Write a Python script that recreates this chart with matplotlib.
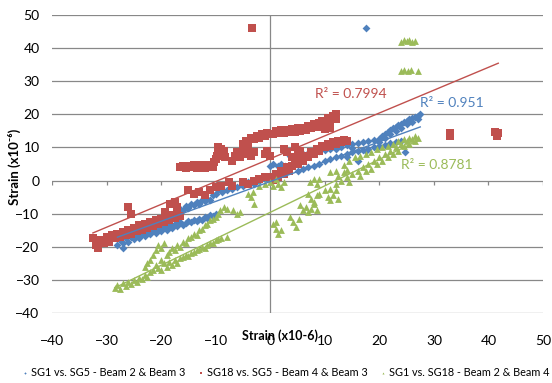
import numpy as np
import matplotlib
matplotlib.use("Agg")
import matplotlib.pyplot as plt

# 数据点 (x, y)
sg1_sg5 = [  # 蓝色 SG1 vs. SG5
    (-28, -19.5), (-27.5, -18), (-27, -20.3), (-27, -19), (-26.5, -17.5), (-26, -18.5), (-25.5, -17),
    (-25, -17.8), (-24.5, -16.5), (-24, -17.2), (-23.5, -16), (-23, -16.8), (-22.5, -15.5), (-22, -16.2),
    (-21.5, -15), (-21, -15.8), (-20.5, -14.5), (-20, -15.3), (-19.5, -14), (-19, -14.8), (-18.5, -13.5),
    (-18, -14.3), (-17.5, -13), (-17, -13.8), (-16.5, -12.5), (-16, -13.3), (-15.5, -12.8), (-15, -12.2),
    (-14.5, -12.6), (-14, -11.8), (-13.5, -12.2), (-13, -11.5), (-12.5, -11.8), (-12, -11), (-11.5, -11.4),
    (-11, -10.5), (-10.5, -10.8), (-10, -10),
    (-17, -9.5), (-16.5, -8.5), (-16, -9), (-15.5, -7.8), (-15, -8.3), (-14.5, -7), (-14, -7.5), (-13.5, -6.5),
    (-13, -7), (-12.5, -6), (-12, -6.3), (-11.5, -5.5), (-11, -5.8), (-10.5, -4.5), (-10, -4), (-9.5, -3),
    (-9, -2), (-9.5, -1.8), (-8.8, -3.5),
    (-8, -3), (-7, -2.5), (-6, -2), (-5, -1.5), (-4, -0.5), (-3, -1), (-2, 0), (-1, 0.5), (0, 1), (1, 1.5),
    (0, 4.5), (0.5, 5), (1.5, 4.3), (2, 5), (2.8, 4.5), (4.6, 5.4),
    (3.7, 7.3), (5, 7.8), (6, 8), (7, 8.3), (8, 8.6), (9, 9), (10, 9.2), (11, 9.5), (12, 9.5), (13, 10.2),
    (14, 10.6), (15, 11), (16, 11.2), (17, 11.5), (18, 11.8), (19, 12.2), (20, 12.5), (20.5, 13.5), (21, 14),
    (21.5, 14.8), (22, 15.2), (22.5, 15.8), (23, 16.3), (23.5, 16.8), (24, 17.2), (24.5, 17.6), (25, 18),
    (25.5, 18.5), (26, 18.8), (26.5, 19.3), (27, 19.6), (27.5, 20),
    (20, 11.5), (21, 13), (22, 14), (23, 15), (24, 16), (25, 17), (26, 17.8), (27, 18.5),
    (5, 3), (6, 3.5), (7, 4), (8, 4.5), (9, 5), (10, 6), (11, 6.5), (12, 7), (13, 7.5), (14, 8), (15, 8.5),
    (16, 9), (17, 9.2), (18, 9.5), (19, 10), (20, 10.5), (21, 10.8), (22, 11.2), (23, 11.5), (24, 12),
    (14, 7), (16, 6), (17.5, 9), (24.7, 8.5), (15, 9.8),
    (17.6, 46),
]

sg18_sg5 = [  # 红色 SG18 vs. SG5
    (-32.5, -17.5), (-32, -19.5), (-31.5, -20.5), (-31, -18), (-30.5, -19), (-30, -17), (-29.5, -18.5),
    (-29, -16.5), (-28.5, -17.5), (-28, -16), (-27.5, -17), (-27, -15.5), (-26.5, -16.5), (-26, -15),
    (-25.5, -16), (-25, -14.2), (-24.5, -15.3), (-24, -13.5), (-23.5, -14.8), (-23, -13), (-22.5, -14.2),
    (-22, -12.5), (-21.5, -13.6), (-21, -12), (-20.5, -13), (-20, -11.5), (-19.5, -12.5), (-19, -11),
    (-18.5, -12), (-18, -10.5), (-17.5, -11.3), (-17, -10.3), (-16.5, -10.8), (-26, -8), (-25.5, -10),
    (-19.3, -9.5),
    (-18.3, -7), (-17.5, -6.5), (-17, -8), (-15, -3), (-14, -4), (-13, -3.5), (-12, -4.5), (-11, -3),
    (-10, -2), (-9, -1.5), (-7.5, -0.5), (-7, -1.5), (-5, -0.5), (-4, -1), (-3, 0), (-2, 0.5), (-1, 1),
    (0, 1), (0.5, 0.3), (1, 2), (1.5, 1.2), (2, 3), (2.5, 2), (3, 4), (3.5, 3), (4, 4.5), (4.5, 5.5),
    (5, 5), (5.5, 6.5), (6, 6), (6.5, 7.5), (7, 7), (7.5, 8.5), (8, 8), (8.5, 9.5), (9, 9), (9.5, 10.5),
    (10, 10), (10.5, 11), (11, 10.5), (11.5, 11.5), (12, 11), (12.5, 12), (13, 11.5), (13.5, 12.2),
    (14, 11.8), (4, 7), (5, 8), (3, 8.5), (2.5, 9.5), (4.5, 10), (5.5, 9),
    (-16.5, 4), (-16, 4.5), (-15.5, 3.8), (-15, 4.5), (-14.5, 4), (-14, 4.6), (-13.5, 3.8), (-13, 4.3),
    (-12.5, 4.6), (-12, 3.9), (-11.5, 4.4), (-11, 4.8), (-10.5, 4.2), (-10.3, 5.5), (-10, 6.5),
    (-9.8, 7.5), (-9.5, 8.5), (-9, 9.5), (-9.5, 10), (-8.5, 9), (-8.2, 7), (-7, 6), (-6.5, 7.5), (-6, 8.5),
    (-5.5, 7), (-5, 9), (-4.5, 8), (-4, 9.3), (-3.5, 7.5), (-3, 8.5), (-5, 11), (-4.5, 12), (-4, 11.5),
    (-3.5, 13), (-3, 12.5), (-2.5, 13.5), (-2, 13), (-1.5, 14), (-1, 13.5), (-0.5, 14.5), (-1, 8),
    (-0.5, 9), (0, 7.5), (0.5, 14), (1, 15), (1.5, 14.3), (2, 15.2), (2.5, 14.5), (3, 15.3), (3.5, 14.6),
    (4, 15.5), (4.5, 14.7), (5, 15.8), (5.5, 15), (6, 16), (6.5, 15.3), (7, 16.5), (7.5, 15.8), (8, 17),
    (8.5, 16.3), (9, 17.5), (9.5, 18), (10, 17.2), (10.5, 18.8), (11, 17.8), (11.5, 19.5), (12, 20),
    (12, 18.5), (10, 15.5), (11, 16),
    (33, 13.5), (33, 14.3), (41.5, 13.5), (41.8, 14.3), (41.2, 14.8),
    (-3.3, 46),
]

sg1_sg18 = [  # 绿色 SG1 vs. SG18
    (24, 42), (24.5, 42.5), (25, 42.3), (25.5, 42.5), (26, 42), (26.5, 42.2),
    (24, 33), (24.6, 33.4), (25.2, 33), (25.8, 33.4), (27, 33.2),
    (-28.5, -32.5), (-28, -31.5), (-27.5, -32.8), (-27, -31), (-26.5, -31.8), (-26, -30.5), (-25.5, -31.2),
    (-25, -30), (-24.5, -30.5), (-24, -29.5), (-23.5, -29.8), (-23, -28.5), (-22.5, -29), (-22, -27.5),
    (-21.5, -27), (-21, -25.5), (-20.5, -26.5), (-20, -24), (-19.5, -25), (-19, -22.5), (-18.5, -21.5),
    (-18, -20.5), (-17.5, -21), (-17, -19.5), (-16.5, -20), (-16, -18.5), (-15.5, -19), (-15, -17.5),
    (-14.5, -17), (-14, -16), (-13.5, -16.5), (-13, -15), (-12.5, -14.5), (-12, -13.5), (-11.5, -13),
    (-11, -12), (-10.5, -11.5), (-10, -11), (-9.5, -10), (-9.2, -9),
    (-22, -24), (-21.5, -22.5), (-21, -21), (-20.5, -19.5), (-20, -20.5), (-19.5, -19), (-23, -26),
    (-22.5, -25),
    (-20, -27), (-19, -26), (-18.5, -24.5), (-18, -25.5), (-17.5, -24), (-17, -24.8), (-16.5, -23.5),
    (-16, -23), (-15.5, -22.5), (-15, -22.8), (-14.5, -21.8), (-14, -21.5), (-13.5, -21), (-13, -20.7),
    (-12.5, -20), (-12, -20.3), (-11.5, -19.5), (-11, -19), (-10.5, -18.8), (-10, -18), (-9.5, -17.8),
    (-9, -17.5), (-8, -17),
    (-8.5, -8), (-8, -8.5), (-6.8, -9), (-6, -10), (-5.5, -9.5), (-4, -4), (-3.5, -5), (-3, -7),
    (-3.2, -3.5), (-2, -1.5), (-1, -1), (0, -0.5), (0.5, -1.5), (1, 0.5), (1.5, -1), (2, -2), (2.5, -0.5),
    (0.5, -13), (1, -14.5), (1.5, -16), (2, -15), (1, -12.5), (3.7, -11), (4.2, -12.5), (4.7, -14),
    (5.2, -11.5), (5.5, -7.5), (6, -9), (6.5, -8), (7, -9.5), (7.5, -8.5), (8, -7), (8.5, -9), (7, -4),
    (7.5, -5.5), (8, -6.5), (8.5, -4.5), (9, -4), (7.2, -0.5), (8, 0.5), (8.5, -1), (9, 0.5), (10, -3),
    (10.5, -5), (11, -6), (11.5, -4.5), (12, -3), (12.5, -5.5), (11, 2.5), (12, 3), (12.5, 1.5),
    (13.5, 2.5), (14, 3.2),
    (11, -2.5), (12, -1), (13, 0), (14, 1), (14.5, -0.5), (15, 2), (16, 3), (16.5, 1.5), (17, 4), (17.5, 3),
    (18, 5), (18.5, 3.5), (19, 6), (19.5, 5), (20, 7), (20.5, 6), (21, 8), (21.5, 7), (22, 9), (22.5, 8),
    (23, 10), (23.5, 9), (24, 11), (24.5, 10.5), (25, 12), (25.5, 11), (26, 12.5), (26.5, 11.8), (27, 13),
    (13.5, 4.8), (14.5, 6), (15.5, 7), (16.5, 7.5), (17.5, 8), (18.5, 8.5), (19.5, 9.5), (20.5, 10),
    (21.5, 10.5), (22.5, 11), (23.5, 12), (24.5, 12.5), (25.5, 13), (26.5, 13.5),
]

labels = ['SG1 vs. SG5 - Beam 2 & Beam 3', 'SG18 vs. SG5 - Beam 4 & Beam 3', 'SG1 vs. SG18 - Beam 2 & Beam 4']
colors = ['#4F81BD', '#C0504D', '#9BBB59']
markers = ['D', 's', '^']
sizes = [16, 26, 24]

# 趋势线 (斜率, 截距, x起点, x终点) 和 R² 文字
trend_coef = [(0.60, -0.3, -28, 27.5), (0.69, 6.6, -32.5, 41.8), (0.80, -9.6, -28.5, 27)]
r2_text = ['R² = 0.951', 'R² = 0.7994', 'R² = 0.8781']
r2_pos = [(33.3, 23.3), (14.8, 26), (30.6, 4.8)]

xticks = np.arange(-40, 51, 10)
yticks = np.arange(-40, 51, 10)

plt.rcParams['font.family'] = ['Lato', 'DejaVu Sans']
fig = plt.figure(figsize=(5.52, 3.83), dpi=100)
ax = fig.add_axes([0.0942, 0.1828, 0.8895, 0.778])
ax.set_xlim(-40, 50)
ax.set_ylim(-40, 50)

grid_c = '#888888'
for yv in yticks:
    ax.axhline(yv, color=grid_c, lw=0.9, zorder=1)
ax.axvline(0, color=grid_c, lw=0.9, zorder=1)
# x 轴刻度线 (在 y=0 处)
ax.vlines(xticks, -1.2, 0, color=grid_c, lw=0.9, zorder=1)

for pts, c, m, s, lab in zip([sg1_sg5, sg18_sg5, sg1_sg18], colors, markers, sizes, labels):
    xy = np.array(pts)
    ax.scatter(xy[:, 0], xy[:, 1], c=c, marker=m, s=s, linewidths=0, label=lab, zorder=3)

for (k, b, x0, x1), c, t, (tx, ty) in zip(trend_coef, colors, r2_text, r2_pos):
    xx = np.array([x0, x1])
    ax.plot(xx, k * xx + b, color=c, lw=1.0, zorder=4)
    ax.text(tx, ty, t, color=c, fontsize=10, ha='center', va='center', zorder=5)

for sp in ax.spines.values():
    sp.set_visible(False)
ax.set_xticks(xticks)
ax.set_yticks(yticks)
ax.tick_params(axis='both', length=0, labelsize=10, colors='black')
ax.tick_params(axis='x', pad=16)
ax.tick_params(axis='y', pad=9)

ax.set_xlabel('Strain (x10-6)', fontsize=9, fontweight='bold')
ax.xaxis.set_label_coords(0.464, -0.077)
ax.xaxis.label.set_va('center')
ax.set_ylabel('Strain (x10⁻⁶)', fontsize=9.5, fontweight='bold')
ax.yaxis.set_label_coords(-0.077, 0.49)
ax.yaxis.label.set_va('center')

leg = fig.legend(loc='center left', bbox_to_anchor=(0.04, 0.027), ncol=3, frameon=False,
                 fontsize=7.8, handlelength=0.5, handletextpad=0.3, columnspacing=1.2,
                 markerscale=0.3, borderpad=0, borderaxespad=0)

fig.savefig('out.png', dpi=100)
